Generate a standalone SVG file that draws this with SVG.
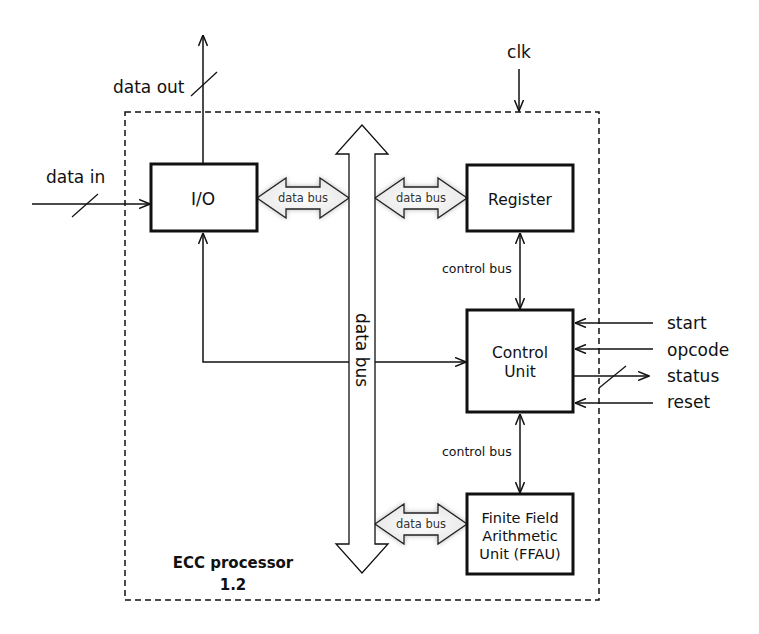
<svg xmlns="http://www.w3.org/2000/svg" width="759" height="634" viewBox="0 0 759 634">
<defs>
<style>
text{font-family:"DejaVu Sans","Verdana",sans-serif;fill:#111}
.lbl{font-size:17px}
.box{fill:#fff;stroke:#111;stroke-width:3}
.btxt{font-size:15.5px;text-anchor:middle}
.ln{fill:none;stroke:#111;stroke-width:1.5}
.sl{fill:none;stroke:#111;stroke-width:1.2}
.cb{font-size:12.5px}
.db{font-size:11.5px;text-anchor:middle;fill:#333}
.dbar{fill:url(#g);stroke:#222;stroke-width:1.3;filter:url(#sh)}
</style>
<marker id="ah" viewBox="0 0 12 10" refX="11.5" refY="5" markerWidth="12" markerHeight="10" markerUnits="userSpaceOnUse" orient="auto-start-reverse">
<path d="M0.5,0.5 L11.5,5 L0.5,9.5" fill="none" stroke="#111" stroke-width="1.5"/>
</marker>
<radialGradient id="g" cx="50%" cy="50%" r="60%">
<stop offset="0" stop-color="#ffffff"/>
<stop offset="1" stop-color="#e4e4e4"/>
</radialGradient>
<filter id="sh" x="-20%" y="-50%" width="140%" height="200%">
<feDropShadow dx="0" dy="0" stdDeviation="2.5" flood-color="#000" flood-opacity="0.28"/>
</filter>
</defs>
<rect width="759" height="634" fill="#fff"/>

<g id="boundary">
<rect x="125" y="112" width="474" height="488" fill="none" stroke="#111" stroke-width="1.5" stroke-dasharray="6,4"/>
<text x="233" y="568" font-size="15" font-weight="bold" text-anchor="middle">ECC processor</text>
<text x="233" y="590" font-size="15" font-weight="bold" text-anchor="middle">1.2</text>
</g>

<g id="connectors">
<line class="ln" x1="203" y1="164" x2="203" y2="35" marker-end="url(#ah)"/>
<line class="sl" x1="191" y1="96" x2="217" y2="72"/>
<line class="ln" x1="32" y1="204" x2="150" y2="204" marker-end="url(#ah)"/>
<line class="sl" x1="72" y1="217" x2="98" y2="194"/>
<line class="ln" x1="519" y1="69" x2="519" y2="111" marker-end="url(#ah)"/>
<path class="ln" d="M203,233 V362 H466" marker-start="url(#ah)" marker-end="url(#ah)"/>
<line class="ln" x1="520" y1="233" x2="520" y2="309" marker-start="url(#ah)" marker-end="url(#ah)"/>
<line class="ln" x1="520" y1="414" x2="520" y2="493" marker-start="url(#ah)" marker-end="url(#ah)"/>
<line class="ln" x1="653" y1="323" x2="575" y2="323" marker-end="url(#ah)"/>
<line class="ln" x1="653" y1="349" x2="575" y2="349" marker-end="url(#ah)"/>
<line class="ln" x1="573" y1="376" x2="649" y2="376" marker-end="url(#ah)"/>
<line class="sl" x1="599" y1="388" x2="626" y2="366"/>
<line class="ln" x1="653" y1="403" x2="575" y2="403" marker-end="url(#ah)"/>
<text class="lbl" x="113" y="93">data out</text>
<text class="lbl" x="46" y="183">data in</text>
<text class="lbl" x="519" y="58" text-anchor="middle">clk</text>
<text class="lbl" x="667" y="329">start</text>
<text class="lbl" x="667" y="356">opcode</text>
<text class="lbl" x="667" y="382">status</text>
<text class="lbl" x="667" y="408">reset</text>
<text class="cb" x="442" y="273">control bus</text>
<text class="cb" x="442" y="456">control bus</text>
<path class="dbar" d="M257,198 L286,178 L286,187 L320,187 L320,178 L349,198 L320,218 L320,209 L286,209 L286,218 Z"/>
<text class="db" x="303" y="202">data bus</text>
<path class="dbar" d="M375,198 L404,178 L404,187 L438,187 L438,178 L467,198 L438,218 L438,209 L404,209 L404,218 Z"/>
<text class="db" x="421" y="202">data bus</text>
<path class="dbar" d="M375,524 L404,504 L404,513 L438,513 L438,504 L467,524 L438,544 L438,535 L404,535 L404,544 Z"/>
<text class="db" x="421" y="528">data bus</text>
</g>

<g id="bus">
<path d="M362,125 L388,154 L375,154 L375,544 L388,544 L362,573 L336,544 L349,544 L349,154 L336,154 Z" fill="#fff" stroke="#111" stroke-width="1.3"/>
<text class="lbl" transform="translate(356,350) rotate(90)" text-anchor="middle">data bus</text>
</g>

<g id="io">
<rect class="box" x="151" y="164" width="106" height="67"/>
<text class="btxt" x="203" y="205" style="font-size:17px">I/O</text>
</g>

<g id="register">
<rect class="box" x="467" y="165" width="106" height="66"/>
<text class="btxt" x="520" y="205">Register</text>
</g>

<g id="control">
<rect class="box" x="467" y="310" width="106" height="102"/>
<text class="btxt" x="520" y="358">Control</text>
<text class="btxt" x="520" y="377">Unit</text>
</g>

<g id="ffau">
<rect class="box" x="467" y="494" width="106" height="80"/>
<text class="btxt" x="520" y="523" style="font-size:14.5px">Finite Field</text>
<text class="btxt" x="520" y="541" style="font-size:14.5px">Arithmetic</text>
<text class="btxt" x="520" y="559" style="font-size:14.5px">Unit (FFAU)</text>
</g>
</svg>
